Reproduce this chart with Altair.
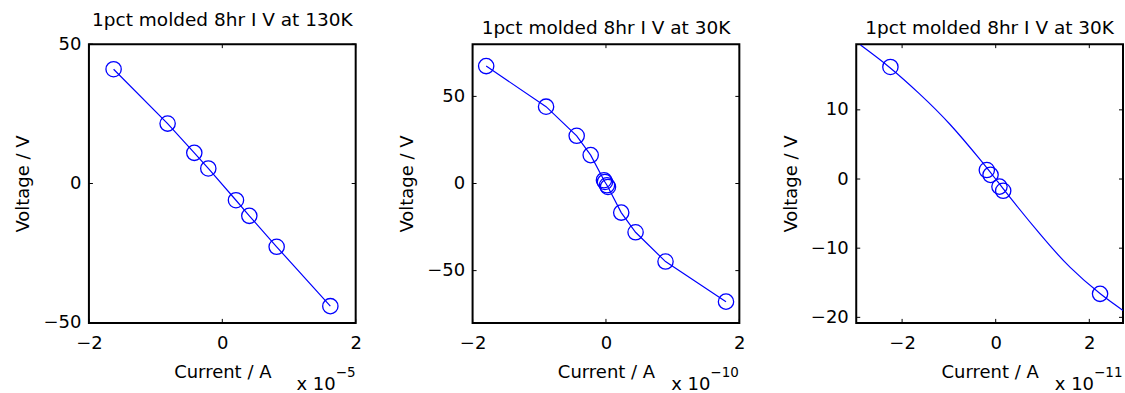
import altair as alt
import pandas as pd

# ---------------- data ----------------
titles = ["1pct molded 8hr I V at 130K", "1pct molded 8hr I V at 30K", "1pct molded 8hr I V at 30K"]
exponents = ["\u22125", "\u221210", "\u221211"]

# panel 1 (current in units of 1e-5 A)
p1_I = [-1.63, -0.82, -0.42, -0.21, 0.205, 0.405, 0.815, 1.62]
p1_V = [41.0, 21.5, 11.0, 5.4, -6.0, -11.6, -22.7, -44.0]

# panel 2 (current in units of 1e-10 A)
p2_I = [-1.796, -0.898, -0.439, -0.229, -0.03, -0.015, 0.015, 0.03, 0.229, 0.444, 0.893, 1.80]
p2_V = [67.4, 44.1, 27.4, 16.3, 1.9, 0.9, -1.0, -2.0, -16.7, -28.0, -44.8, -67.8]

# panel 3 (current in units of 1e-11 A)
p3_I = [-2.25, -0.19, -0.11, 0.08, 0.16, 2.23]
p3_V = [16.2, 1.3, 0.6, -1.1, -1.7, -16.6]
c3_I = [-2.888, -2.265, -1.622, -0.979, -0.336, 0.006, 0.306, 0.949, 1.592, 2.235, 2.721]
c3_V = [19.37, 16.13, 12.28, 7.92, 2.83, -0.07, -2.66, -7.98, -12.78, -16.6, -19.0]

x_domains = [[-2, 2], [-2, 2], [-2.98, 2.72]]
y_domains = [[-50, 50], [-80, 80], [-20.8, 19.5]]
x_ticks = [[-2, 0, 2], [-2, 0, 2], [-2, 0, 2]]
y_ticks = [[-50, 0, 50], [-50, 0, 50], [-20, -10, 0, 10]]
exp_prefix = "x 10"

# ---------------- styling ----------------
FONT = "DejaVu Sans"
BLUE = "#0000ff"
W, H = 267, 279
TICK = 4


def panel(I, V, cI, cV, xdom, ydom, xt, yt, title, exp, interp, sup_w):
    pts = pd.DataFrame({"I": I, "V": V})
    crv = pd.DataFrame({"I": cI, "V": cV})
    xs = alt.Scale(domain=xdom, nice=False, zero=False)
    ys = alt.Scale(domain=ydom, nice=False, zero=False)
    xax = alt.Axis(values=xt, title="Current / A", ticks=False, domain=False, grid=False,
                   labelFlush=False, labelOverlap=False, labelBaseline="alphabetic",
                   labelPadding=26, titleY=55, titleBaseline="alphabetic", format="d")
    yax = alt.Axis(values=yt, title="Voltage / V", ticks=False, domain=False, grid=False,
                   labelFlush=False, labelOverlap=False, labelPadding=8,
                   titleX=-60, titleY=H / 2, titleBaseline="alphabetic", format="d")

    def X(f):
        return alt.X(f, type="quantitative", scale=xs, axis=xax)

    def Y(f):
        return alt.Y(f, type="quantitative", scale=ys, axis=yax)

    line = alt.Chart(crv).mark_line(color=BLUE, strokeWidth=1.2, clip=True,
                                    interpolate=interp).encode(x=X("I"), y=Y("V"))
    circ = alt.Chart(pts).mark_point(shape="circle", size=235, color=BLUE, strokeWidth=1.3,
                                     filled=False, opacity=1).encode(x=X("I"), y=Y("V"))
    tdx = pd.DataFrame({"t": xt})
    tdy = pd.DataFrame({"t": yt})
    rule = dict(color="black", strokeWidth=1)
    tb = alt.Chart(tdx).mark_rule(**rule).encode(x=X("t"), y=alt.value(H), y2=alt.value(H - TICK))
    tt = alt.Chart(tdx).mark_rule(**rule).encode(x=X("t"), y=alt.value(0), y2=alt.value(TICK))
    tl = alt.Chart(tdy).mark_rule(**rule).encode(y=Y("t"), x=alt.value(0), x2=alt.value(TICK))
    tr = alt.Chart(tdy).mark_rule(**rule).encode(y=Y("t"), x=alt.value(W), x2=alt.value(W - TICK))
    e1 = alt.Chart(pd.DataFrame({"s": [exp_prefix]})).mark_text(
        align="right", baseline="alphabetic", font=FONT, fontSize=18, color="black"
    ).encode(text="s:N", x=alt.value(W - sup_w), y=alt.value(346))
    e2 = alt.Chart(pd.DataFrame({"s": [exp]})).mark_text(
        align="left", baseline="alphabetic", font=FONT, fontSize=13.5, color="black"
    ).encode(text="s:N", x=alt.value(W - sup_w), y=alt.value(333))
    return alt.layer(line, circ, tb, tt, tl, tr, e1, e2).properties(
        width=W, height=H,
        title=alt.TitleParams(title, font=FONT, fontSize=18.5, fontWeight="normal",
                              color="black", anchor="middle", offset=6),
    )


p1 = panel(p1_I, p1_V, p1_I, p1_V, x_domains[0], y_domains[0], x_ticks[0], y_ticks[0],
           titles[0], exponents[0], "linear", 20)
p2 = panel(p2_I, p2_V, p2_I, p2_V, x_domains[1], y_domains[1], x_ticks[1], y_ticks[1],
           titles[1], exponents[1], "linear", 29)
p3 = panel(p3_I, p3_V, c3_I, c3_V, x_domains[2], y_domains[2], x_ticks[2], y_ticks[2],
           titles[2], exponents[2], "natural", 29)

chart = alt.hconcat(p1, p2, p3, spacing=117, bounds="flush").properties(
    padding={"left": 14, "top": 9, "right": 0, "bottom": 0},
    background="white",
).configure_view(
    stroke="black", strokeWidth=2
).configure_axis(
    labelFont=FONT, labelFontSize=18, titleFont=FONT, titleFontSize=18,
    titleFontWeight="normal", labelColor="black", titleColor="black"
)

chart.save("out.html", embed_options={"renderer": "svg", "actions": False})
